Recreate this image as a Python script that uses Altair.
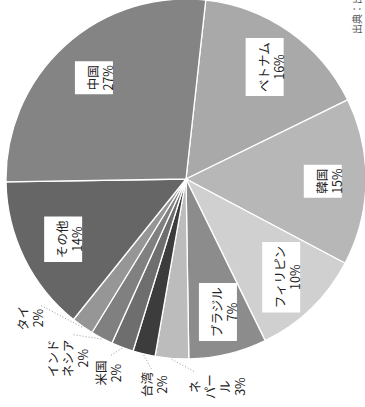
import math
import altair as alt
import pandas as pd

# ---- data ----
countries = ["ベトナム", "韓国", "フィリピン", "ブラジル", "ネパール", "台湾",
             "米国", "インドネシア", "タイ", "その他", "中国"]
shares = [16, 15, 10, 7, 3, 2, 2, 2, 2, 14, 27]
label_lines = [["ベトナム"], ["韓国"], ["フィリピン"], ["ブラジル"], ["ネ", "パー", "ル"],
               ["台湾"], ["米国"], ["インド", "ネシア"], ["タイ"], ["その他"], ["中国"]]
grays = ["#a9a9a9", "#b7b7b7", "#d0d0d0", "#8c8c8c", "#bcbcbc", "#3c3c3c",
         "#6e6e6e", "#808080", "#969696", "#666666", "#848484"]
outside = [False, False, False, False, True, True, True, True, True, False, False]
source_note = "出典：出入国在留管理庁"

# ---- layout ----
W, H = 365, 407
CX, CY, R = 186, 179, 180
START_DEG = 6.3
FS = 12.5
LH = 15
FONT = "Noto Sans CJK JP"
INNER_R = 0.76
GAP_DEG = 13
PAD = 14


def tlen(s):
    return sum(1.0 if ord(c) > 255 else 0.62 for c in s)


def polar(r, deg):
    a = math.radians(deg)
    return CX + r * math.sin(a), CY - r * math.cos(a)


total = sum(shares)
mids = []
cum = 0.0
for v in shares:
    span = v / total * 360
    mids.append(START_DEG + cum + span / 2)
    cum += span

pie_df = pd.DataFrame({"country": countries, "share": shares, "idx": list(range(len(shares)))})

inner_rows, box_rows, out_rows, rule_rows = [], [], [], []
out_idx = [i for i, o in enumerate(outside) if o]
center = sum(mids[i] for i in out_idx) / len(out_idx) + 3
for k, i in enumerate(out_idx):
    lines = label_lines[i] + [f"{shares[i]}%"]
    w = len(lines) * LH
    h = max(tlen(l) for l in lines) * FS
    ang = center + (k - (len(out_idx) - 1) / 2) * GAP_DEG
    a = math.radians(ang)
    e = abs(math.sin(a)) * w / 2 + abs(math.cos(a)) * h / 2
    r = R + PAD + e
    x, y = polar(r, ang)
    out_rows.append({"x": x, "y": y, "t": "\n".join(lines)})
    x1, y1 = polar(R + 1, mids[i])
    x2, y2 = polar(r - e - 1, ang)
    rule_rows.append({"x": x1, "y": y1, "x2": x2, "y2": y2})

for i, o in enumerate(outside):
    if o:
        continue
    lines = label_lines[i] + [f"{shares[i]}%"]
    x, y = polar(INNER_R * R, mids[i])
    bw = len(lines) * LH + 8
    bh = max(tlen(l) for l in lines) * FS + 8
    inner_rows.append({"x": x, "y": y, "t": "\n".join(lines)})
    box_rows.append({"x": x - bw / 2, "x2": x + bw / 2, "y": y - bh / 2, "y2": y + bh / 2})

xs = alt.Scale(domain=[0, W], nice=False, zero=False)
ys = alt.Scale(domain=[H, 0], nice=False, zero=False)

arcs = alt.Chart(pie_df).mark_arc(outerRadius=R, stroke="white", strokeWidth=1.3).encode(
    theta=alt.Theta("share:Q", stack=True,
                    scale=alt.Scale(range=[math.radians(START_DEG), math.radians(START_DEG) + 2 * math.pi])),
    color=alt.Color("country:N", scale=alt.Scale(domain=countries, range=grays), legend=None),
    order=alt.Order("idx:Q"),
    x=alt.value(CX),
    y=alt.value(CY),
)

rules = alt.Chart(pd.DataFrame(rule_rows)).mark_rule(
    color="#9a9a9a", strokeWidth=1, strokeDash=[1, 2]
).encode(
    x=alt.X("x:Q", scale=xs, axis=None), y=alt.Y("y:Q", scale=ys, axis=None),
    x2="x2:Q", y2="y2:Q",
)

boxes = alt.Chart(pd.DataFrame(box_rows)).mark_rect(color="white").encode(
    x=alt.X("x:Q", scale=xs, axis=None), y=alt.Y("y:Q", scale=ys, axis=None),
    x2="x2:Q", y2="y2:Q",
)

inner_text = alt.Chart(pd.DataFrame(inner_rows)).mark_text(
    angle=270, align="center", baseline="middle", lineBreak="\n",
    font=FONT, fontSize=FS, lineHeight=LH, color="#222222",
).encode(
    x=alt.X("x:Q", scale=xs, axis=None), y=alt.Y("y:Q", scale=ys, axis=None), text="t:N",
)

out_text = alt.Chart(pd.DataFrame(out_rows)).mark_text(
    angle=270, align="center", baseline="middle", lineBreak="\n",
    font=FONT, fontSize=FS, lineHeight=LH, color="#222222",
).encode(
    x=alt.X("x:Q", scale=xs, axis=None), y=alt.Y("y:Q", scale=ys, axis=None), text="t:N",
)

note = alt.Chart(pd.DataFrame({"t": [source_note]})).mark_text(
    angle=270, align="left", baseline="middle", font=FONT, fontSize=10, color="#555555",
).encode(
    x=alt.value(358), y=alt.value(34), text="t:N",
)

chart = alt.layer(arcs, rules, boxes, inner_text, out_text, note).properties(
    width=W, height=H, padding=0, autosize=alt.AutoSizeParams(type="none"),
).configure_view(stroke=None)

chart.save("out.html", embed_options={"renderer": "svg", "actions": False})
